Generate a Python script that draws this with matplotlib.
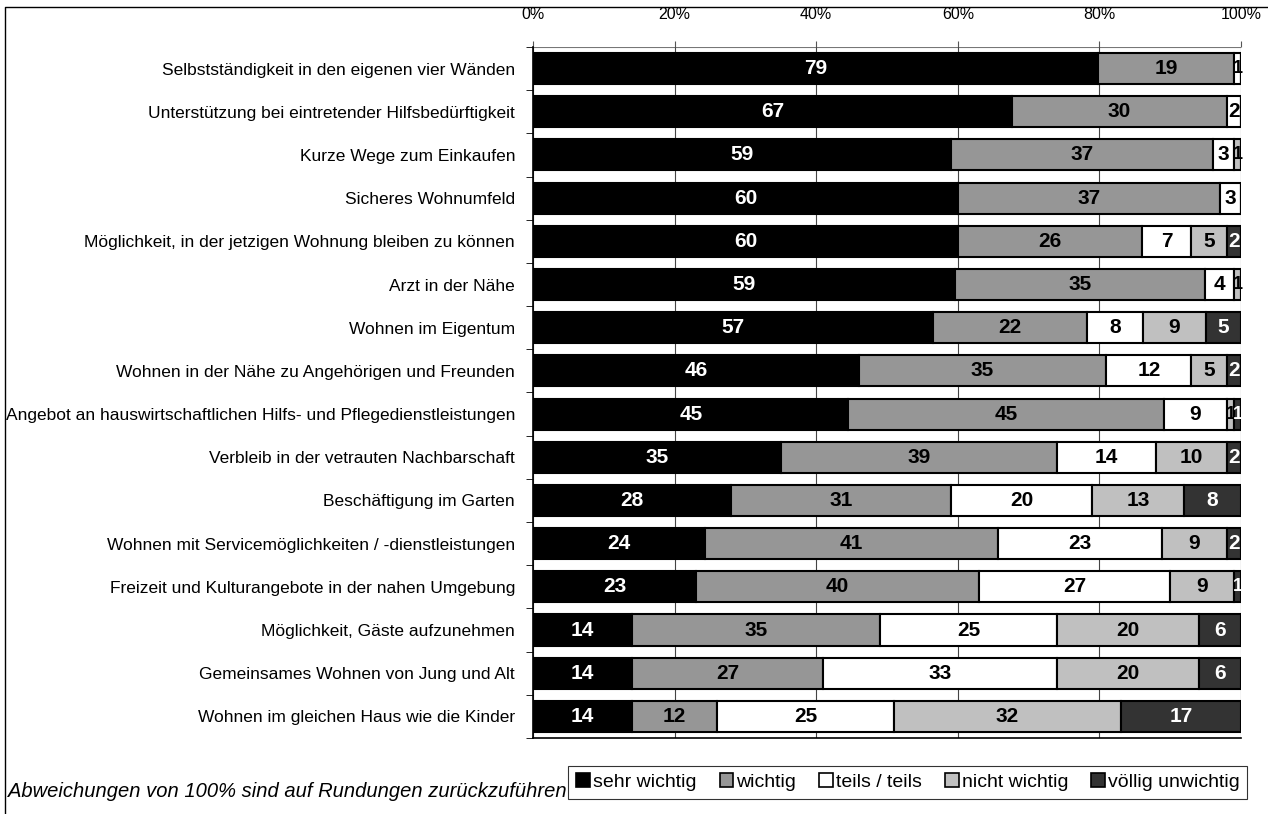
import numpy as np
import matplotlib.pyplot as plt
from matplotlib.lines import Line2D
from matplotlib.patches import Patch

plt.rcParams['font.family'] = ['Liberation Sans', 'DejaVu Sans']

# Data (Prozent, gerundet)
categories = [
    'Selbstständigkeit in den eigenen vier Wänden',
    'Unterstützung bei eintretender Hilfsbedürftigkeit',
    'Kurze Wege zum Einkaufen',
    'Sicheres Wohnumfeld',
    'Möglichkeit, in der jetzigen Wohnung bleiben zu können',
    'Arzt in der Nähe',
    'Wohnen im Eigentum',
    'Wohnen in der Nähe zu Angehörigen und Freunden',
    'Angebot an hauswirtschaftlichen Hilfs- und Pflegedienstleistungen',
    'Verbleib in der vetrauten Nachbarschaft',
    'Beschäftigung im Garten',
    'Wohnen mit Servicemöglichkeiten / -dienstleistungen',
    'Freizeit und Kulturangebote in der nahen Umgebung',
    'Möglichkeit, Gäste aufzunehmen',
    'Gemeinsames Wohnen von Jung und Alt',
    'Wohnen im gleichen Haus wie die Kinder',
]
sehr_wichtig = [79, 67, 59, 60, 60, 59, 57, 46, 45, 35, 28, 24, 23, 14, 14, 14]
wichtig = [19, 30, 37, 37, 26, 35, 22, 35, 45, 39, 31, 41, 40, 35, 27, 12]
teils_teils = [1, 2, 3, 3, 7, 4, 8, 12, 9, 14, 20, 23, 27, 25, 33, 25]
nicht_wichtig = [0, 0, 1, 0, 5, 1, 9, 5, 1, 10, 13, 9, 9, 20, 20, 32]
voellig_unwichtig = [0, 0, 0, 0, 2, 0, 5, 2, 1, 2, 8, 2, 1, 6, 6, 17]

series_names = ['sehr wichtig', 'wichtig', 'teils / teils', 'nicht wichtig', 'völlig unwichtig']
tick_labels = ['0%', '20%', '40%', '60%', '80%', '100%']
footnote = 'Abweichungen von 100% sind auf Rundungen zurückzuführen'


def plot_chart():
    """Stacked 100% bar chart"""
    fig = plt.figure(figsize=(12.68, 8.14), dpi=100)
    ax = fig.add_axes([0.4204, 0.0934, 0.5583, 0.8489])

    series = [sehr_wichtig, wichtig, teils_teils, nicht_wichtig, voellig_unwichtig]
    colors = ['#000000', '#969696', '#ffffff', '#c0c0c0', '#333333']
    text_colors = ['white', 'black', 'black', 'black', 'white']

    data = np.array(series, dtype=float)
    shares = data / data.sum(axis=0) * 100
    y = np.arange(len(categories))

    left = np.zeros(len(categories))
    for vals, share, col, tcol, name in zip(series, shares, colors, text_colors, series_names):
        ax.barh(y, share, left=left, height=0.72, color=col, edgecolor='black',
                linewidth=1.5, label=name, zorder=3)
        for i, v in enumerate(vals):
            if v > 0:
                # tiny segments get a slightly smaller label
                fs = 15 if share[i] >= 2 else 13
                ax.text(left[i] + share[i] / 2, y[i], str(v), ha='center', va='center',
                        color=tcol, fontsize=fs, fontweight='bold', zorder=4)
        left += share

    ax.set_xlim(0, 100)
    ax.set_ylim(len(categories) - 0.5, -0.5)
    ax.set_xticks(np.arange(0, 101, 20))
    ax.set_xticklabels(tick_labels)
    ax.xaxis.tick_top()
    ax.tick_params(axis='x', length=4, labelsize=11.5, pad=14, color='#555555')
    ax.set_yticks(y)
    ax.set_yticklabels(categories, fontsize=12.5)
    ax.tick_params(axis='y', which='major', length=0, pad=13)
    ax.set_yticks(np.arange(-0.5, len(categories), 1), minor=True)
    ax.tick_params(axis='y', which='minor', length=5, direction='out')
    ax.grid(axis='x', color='#444444', linewidth=0.8, zorder=0)

    for side in ['top', 'right']:
        ax.spines[side].set_visible(False)
    ax.spines['left'].set_linewidth(1.2)
    ax.spines['bottom'].set_linewidth(1.2)
    ax.axhline(-0.5, color='#777777', linewidth=0.8, zorder=1)

    # legend
    handles = [Patch(facecolor=c, edgecolor='black', linewidth=1.2) for c in colors]
    leg = fig.legend(handles, series_names, loc='center', bbox_to_anchor=(0.716, 0.039),
                     ncol=5, fontsize=14, frameon=True, fancybox=False,
                     handlelength=0.7, handleheight=0.7, handletextpad=0.15,
                     columnspacing=1.2, borderpad=0.4, borderaxespad=0)
    leg.get_frame().set_edgecolor('black')
    leg.get_frame().set_linewidth(0.8)

    fig.text(0.006, 0.016, footnote, fontsize=14.5, style='italic', ha='left', va='bottom')

    # outer frame (cut off at right and bottom)
    fig.add_artist(Line2D([0.004, 0.004, 1.0], [0.0, 0.9914, 0.9914],
                          transform=fig.transFigure, color='black', linewidth=1.0))

    plt.savefig('out.png', dpi=100)
    return fig


def main():
    plot_chart()


if __name__ == "__main__":
    main()
